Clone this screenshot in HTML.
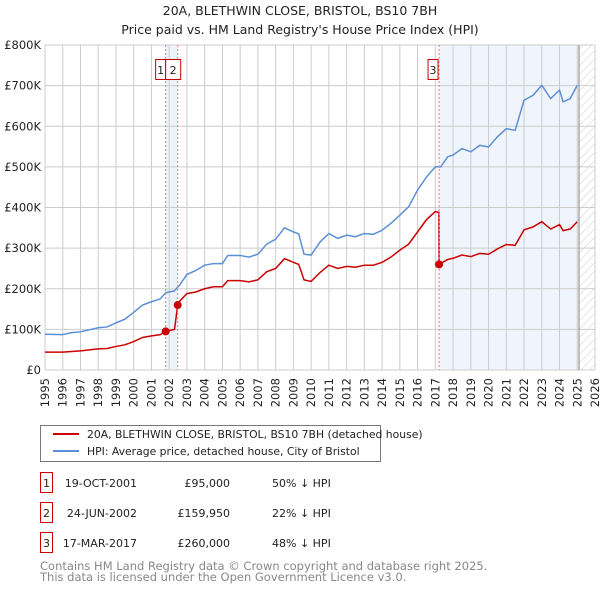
<!DOCTYPE html>
<html><head><meta charset="utf-8"><style>
body{margin:0;background:#fff;font-family:"DejaVu Sans","Liberation Sans",sans-serif;}
svg text{font-family:"DejaVu Sans","Liberation Sans",sans-serif;}
</style></head><body>
<svg id="chart" width="600" height="590" viewBox="0 0 600 590" xmlns="http://www.w3.org/2000/svg">
<defs><pattern id="hatch" width="6" height="6" patternUnits="userSpaceOnUse" patternTransform="rotate(45)"><line x1="0" y1="0" x2="0" y2="6" stroke="#ccc" stroke-width="1"/></pattern></defs>
<text x="300" y="15" text-anchor="middle" font-size="12.5" fill="#222">20A, BLETHWIN CLOSE, BRISTOL, BS10 7BH</text>
<text x="300" y="34" text-anchor="middle" font-size="12.5" fill="#222">Price paid vs. HM Land Registry's House Price Index (HPI)</text>
<g id="grid"></g><g id="series"></g><g id="marks"></g>
<g>
<rect x="40.5" y="425.5" width="340" height="36" fill="#fff" stroke="#777"/>
<line x1="53" y1="434" x2="79" y2="434" stroke="#cc0000" stroke-width="2"/>
<text x="87" y="438" font-size="10.8" fill="#222">20A, BLETHWIN CLOSE, BRISTOL, BS10 7BH (detached house)</text>
<line x1="53" y1="451" x2="79" y2="451" stroke="#5b8fd6" stroke-width="2"/>
<text x="87" y="455" font-size="10.8" fill="#222">HPI: Average price, detached house, City of Bristol</text>
</g>
<g id="table" font-size="11" fill="#222"></g>
<text x="40" y="570" font-size="11.5" fill="#888">Contains HM Land Registry data © Crown copyright and database right 2025.</text>
<text x="40" y="581" font-size="11.5" fill="#888">This data is licensed under the Open Government Licence v3.0.</text>
</svg>
<script>
const yearTicks=[1995,1996,1997,1998,1999,2000,2001,2002,2003,2004,2005,2006,2007,2008,2009,2010,2011,2012,2013,2014,2015,2016,2017,2018,2019,2020,2021,2022,2023,2024,2025,2026];
const valueTicks=[0,100,200,300,400,500,600,700,800];
const valueLabels=["£0","£100K","£200K","£300K","£400K","£500K","£600K","£700K","£800K"];
const hpiYears=[1995,1996,1996.5,1997,1998,1998.5,1999,1999.5,2000,2000.5,2001,2001.5,2001.8,2002.3,2002.6,2003,2003.5,2004,2004.5,2005,2005.3,2006,2006.5,2007,2007.5,2008,2008.5,2009,2009.3,2009.6,2010,2010.5,2011,2011.5,2012,2012.5,2013,2013.5,2014,2014.5,2015,2015.5,2016,2016.5,2017,2017.3,2017.7,2018,2018.5,2019,2019.5,2020,2020.5,2021,2021.5,2022,2022.5,2023,2023.5,2024,2024.2,2024.6,2025];
const hpiValues=[88,87,92,94,104,106,116,125,142,160,168,175,190,195,210,235,245,258,262,262,282,282,278,285,310,322,350,340,335,285,283,315,336,324,332,328,336,334,344,361,381,402,443,475,500,500,525,529,545,537,553,549,574,594,590,664,676,701,668,689,660,668,701];
const propYears=[1995,1996,1997,1998,1998.5,1999,1999.5,2000,2000.5,2001,2001.5,2001.8,2002.3,2002.48,2002.6,2003,2003.5,2004,2004.5,2005,2005.3,2006,2006.5,2007,2007.5,2008,2008.5,2009,2009.3,2009.6,2010,2010.5,2011,2011.5,2012,2012.5,2013,2013.5,2014,2014.5,2015,2015.5,2016,2016.5,2017,2017.2,2017.21,2017.7,2018,2018.5,2019,2019.5,2020,2020.5,2021,2021.5,2022,2022.5,2023,2023.5,2024,2024.2,2024.6,2025];
const propValues=[44,44,47,52,53,58,62,70,80,84,87,95,100,160,170,188,192,200,205,205,220,220,217,222,242,250,274,265,260,222,218,240,258,250,255,253,258,258,265,278,295,310,340,370,390,388,260,272,275,283,279,287,285,298,309,307,345,352,365,347,358,343,347,365];
const saleYears=[2001.8,2002.48,2017.21];
const saleValues=[95,159.95,260];
const saleLabels=["1","2","3"];
const saleDates=["19-OCT-2001","24-JUN-2002","17-MAR-2017"];
const salePrices=["£95,000","£159,950","£260,000"];
const saleDiffs=["50% ↓ HPI","22% ↓ HPI","48% ↓ HPI"];
const dataEnd=2025.1;

const X0=45,X1=595,Y0=370,Y1=45;
const xs=y=>X0+(y-1995)/(2026-1995)*(X1-X0);
const ys=v=>Y0-v/800*(Y0-Y1);
const NS="http://www.w3.org/2000/svg";
function mk(tag,attrs,parent){const e=document.createElementNS(NS,tag);for(const k in attrs)e.setAttribute(k,attrs[k]);parent.appendChild(e);return e;}
const grid=document.getElementById('grid');
let r=mk('rect',{x:xs(saleYears[0]),y:Y1,width:xs(saleYears[1])-xs(saleYears[0]),height:Y0-Y1,fill:'#eef3fb'},grid);


r=mk('rect',{x:xs(saleYears[2]),y:Y1,width:xs(dataEnd)-xs(saleYears[2]),height:Y0-Y1,fill:'#f0f4fc'},grid);


r=mk('rect',{x:xs(dataEnd),y:Y1,width:X1-xs(dataEnd),height:Y0-Y1,fill:'url(#hatch)'},grid);


yearTicks.forEach(y=>{
  const l=mk('line',{x1:xs(y),x2:xs(y),y1:Y1,y2:Y0,stroke:'#cccccc','stroke-width':1},grid);
  
  
  const t=mk('text',{x:0,y:0,'font-size':11.5,fill:'#222','text-anchor':'end',transform:`translate(${xs(y)+4},${Y0+8}) rotate(-90)`},grid);
  t.textContent=y;
  
  
});
valueTicks.forEach((v,i)=>{
  const l=mk('line',{x1:X0,x2:X1,y1:ys(v),y2:ys(v),stroke:'#cccccc','stroke-width':1},grid);
  
  
  const t=mk('text',{x:X0-4,y:ys(v)+4,'font-size':11.5,fill:'#222','text-anchor':'end'},grid);
  t.textContent=valueLabels[i];
  
  
});
let dl=mk('line',{x1:xs(dataEnd),x2:xs(dataEnd),y1:Y1,y2:Y0,stroke:'#999','stroke-width':1.2},grid);


const series=document.getElementById('series');
let p=mk('polyline',{points:hpiYears.map((y,i)=>xs(y)+','+ys(hpiValues[i])).join(' '),fill:'none',stroke:'#5b8fd6','stroke-width':1.5},series);


p=mk('polyline',{points:propYears.map((y,i)=>xs(y)+','+ys(propValues[i])).join(' '),fill:'none',stroke:'#cc0000','stroke-width':1.5},series);


const marks=document.getElementById('marks');
saleYears.forEach((y,i)=>{
  const l=mk('line',{x1:xs(y),x2:xs(y),y1:Y1,y2:Y0,stroke:'#ee7777','stroke-width':1,'stroke-dasharray':'2,2'},marks);
  
  
  const c=mk('circle',{cx:xs(y),cy:ys(saleValues[i]),r:4,fill:'#cc0000'},marks);
  
  
  const b=mk('rect',{x:xs(y)-11,y:59.5,width:10,height:20,fill:'#fff',stroke:'#cc0000'},marks);
  if(i===1){b.setAttribute('x',xs(saleYears[0]));b.setAttribute('width',xs(y)-xs(saleYears[0])+3);}
  if(i===0){b.setAttribute('x',xs(y)-10);}
  
  
  const t=mk('text',{x:(+b.getAttribute('x'))+(+b.getAttribute('width'))/2,y:74,'font-size':11,fill:'#222','text-anchor':'middle'},marks);
  t.textContent=saleLabels[i];
  
  
});
const table=document.getElementById('table');
saleLabels.forEach((s,i)=>{
  const yy=483+i*30;
  const b=mk('rect',{x:40.5,y:yy-10.5,width:12,height:20,fill:'#fff',stroke:'#cc0000'},table);
  
  
  const cells=[[46.5,s,'middle'],[137,saleDates[i],'end'],[230,salePrices[i],'end'],[272,saleDiffs[i],'start']];
  const names=['number','date','price','hpi-diff'];
  cells.forEach((c,j)=>{
    const t=mk('text',{x:c[0],y:yy+4,'text-anchor':c[2]},table);
    t.textContent=c[1];
    
    
  });
});
</script>
</body></html>
